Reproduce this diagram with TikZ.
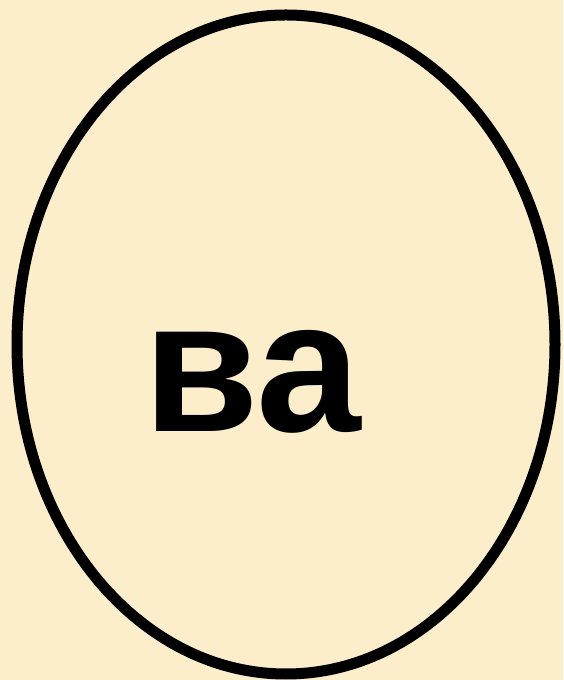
\documentclass[tikz,border=0pt]{standalone}
\usepackage{fontspec}
\setmainfont{Liberation Sans}
\usepackage{xcolor}
\usetikzlibrary{shapes.geometric}
\definecolor{cream}{HTML}{FCEECB}

\begin{document}
\begin{tikzpicture}[x=1pt,y=1pt, oval/.style={draw,ellipse,line width=11pt,inner sep=0pt,minimum width=538pt,minimum height=659pt}, syl/.style={font=\fontsize{188}{188}\selectfont\bfseries,inner sep=0pt,anchor=base west}]
\fill[cream] (0,0) rectangle (563,680);
\useasboundingbox (0,0) rectangle (563,680);
\node[oval] (egg) at (286,335.5) {};
\node[syl] (va) at (143,248) {ва};
\end{tikzpicture}
\end{document}
